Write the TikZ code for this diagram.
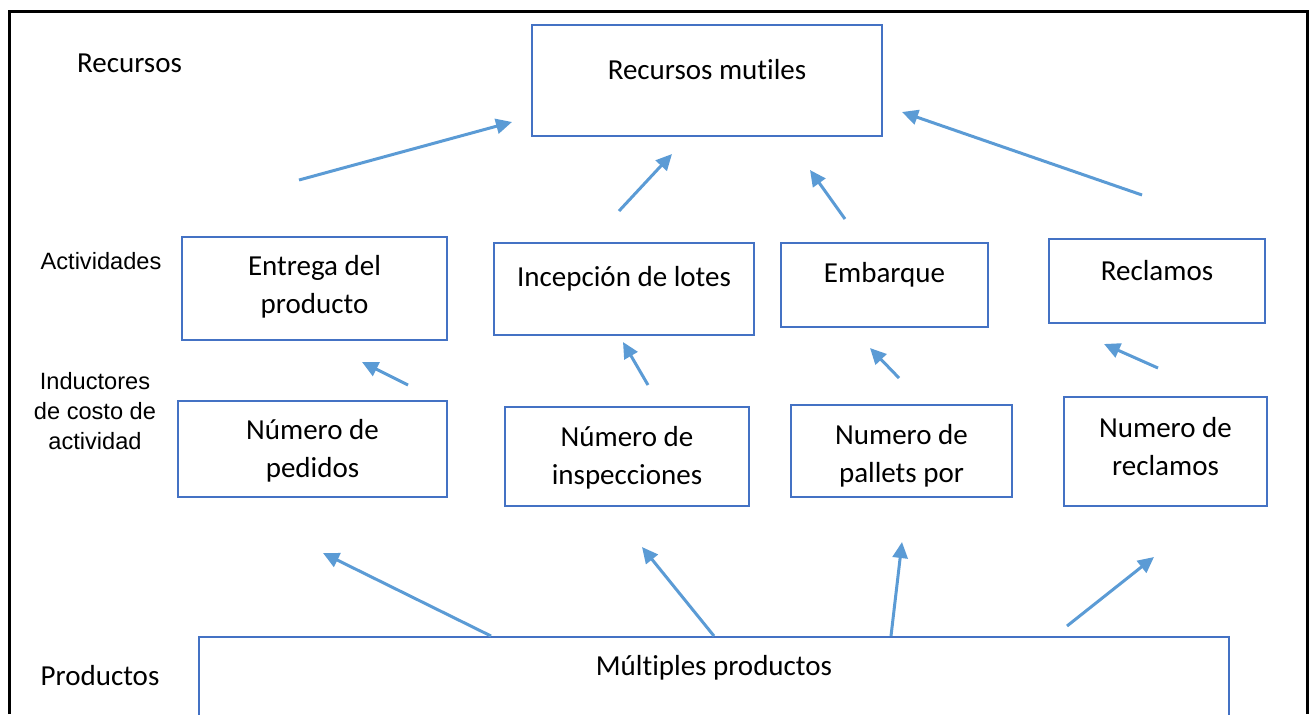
\documentclass[tikz,border=0pt]{standalone}
\usepackage{fontspec}
\setmainfont{Carlito}[Ligatures=NoCommon]
\newfontfamily\arialfont{Liberation Sans}
\usetikzlibrary{arrows.meta, positioning}
\definecolor{boxblue}{HTML}{4472C4}
\definecolor{arrowblue}{HTML}{5B9BD5}

\begin{document}
\begin{tikzpicture}[x=0.5pt, y=-0.5pt, >={Triangle[length=8pt,width=7.5pt]},
  box node/.style={rectangle, draw=boxblue, line width=1pt, inner sep=0pt},
  box text/.style={font=\fontsize{14.5}{19}\selectfont, align=center},
  side text/.style={font=\arialfont\fontsize{11.8}{15}\selectfont, align=center},
  flow/.style={->, color=arrowblue, line width=1.5pt}]
  \useasboundingbox (0,0) rectangle (1312,714);
  \draw[line width=1.5pt] (9,714) -- (9,11) -- (1307,11) -- (1307,714);

  % row labels
  \node[box text] (recursos) at (129.5,63) {Recursos};
  \node[side text] (actividades) at (101,261) {Actividades};
  \node[side text] (inductores) at (95,411) {Inductores\\de costo de\\actividad};
  \node[box text] (productos) at (100,676) {Productos};

  % recursos
  \node[box node, minimum width=175pt, minimum height=55.5pt,
    label={[box text, yshift=5.25pt]center:Recursos mutiles}] (mutiles) at (707,80.5) {};

  % actividades
  \node[box node, minimum width=132.5pt, minimum height=51.5pt,
    label={[box text, yshift=0.75pt]center:{Entrega del\\producto}}] (entrega) at (314.5,288.5) {};
  \node[box node, minimum width=130pt, minimum height=46pt,
    label={[box text, yshift=5pt]center:Incepción de lotes}] (lotes) at (624,289) {};
  \node[box node, minimum width=103.5pt, minimum height=42pt,
    label={[box text, yshift=5pt]center:Embarque}] (embarque) at (884.5,285) {};
  \node[box node, minimum width=108pt, minimum height=42pt,
    label={[box text, yshift=5pt]center:Reclamos}] (reclamos) at (1157,281) {};

  % inductores
  \node[box node, minimum width=134.5pt, minimum height=48pt,
    label={[box text, yshift=-1pt]center:{Número de\\pedidos}}] (pedidos) at (312.5,449) {};
  \node[box node, minimum width=122pt, minimum height=49.5pt,
    label={[box text, yshift=-0.5pt]center:{Número de\\inspecciones}}] (inspecciones) at (627,456.5) {};
  \node[box node, minimum width=110.5pt, minimum height=46pt,
    label={[box text, yshift=-2.25pt]center:{Numero de\\pallets por}}] (pallets) at (901.5,451) {};
  \node[box node, minimum width=101.5pt, minimum height=54.5pt,
    label={[box text, yshift=2.5pt]center:{Numero de\\reclamos}}] (nreclamos) at (1165.5,451.5) {};

  % productos
  \node[box node, minimum width=515pt, minimum height=70pt,
    label={[box text, yshift=19.5pt]center:Múltiples productos}] (multiples) at (714,707) {};

  % arrow ends
  \coordinate (t1) at (299,180);  \coordinate (h1) at (512,122);
  \coordinate (t2) at (619,211);  \coordinate (h2) at (672,154);
  \coordinate (t3) at (845,219);  \coordinate (h3) at (810,170);
  \coordinate (t4) at (1142,195); \coordinate (h4) at (902,112);
  \coordinate (t5) at (408,385);  \coordinate (h5) at (362,362);
  \coordinate (t6) at (648,385);  \coordinate (h6) at (623,342);
  \coordinate (t7) at (899,378);  \coordinate (h7) at (870,348);
  \coordinate (t8) at (1158,368); \coordinate (h8) at (1104,344);
  \coordinate (t9) at (491,636);  \coordinate (h9) at (323,553);
  \coordinate (t10) at (714,636); \coordinate (h10) at (642,547);
  \coordinate (t11) at (891,636); \coordinate (h11) at (902,542);
  \coordinate (t12) at (1067,626); \coordinate (h12) at (1154,557);

  \path[flow]
    (t1) edge (h1)
    (t2) edge (h2)
    (t3) edge (h3)
    (t4) edge (h4)
    (t5) edge (h5)
    (t6) edge (h6)
    (t7) edge (h7)
    (t8) edge (h8)
    (t9) edge (h9)
    (t10) edge (h10)
    (t11) edge (h11)
    (t12) edge (h12);
\end{tikzpicture}
\end{document}
